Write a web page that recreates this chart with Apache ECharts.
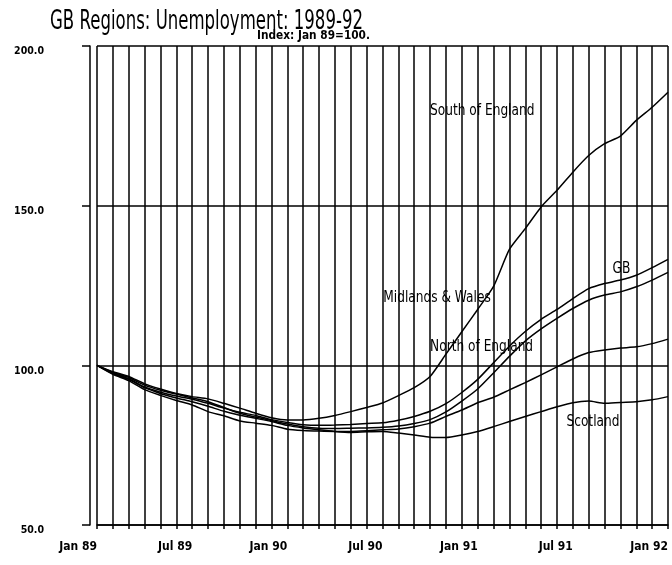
<!DOCTYPE html>
<html>
<head>
<meta charset="utf-8">
<script src="https://cdn.jsdelivr.net/npm/echarts/dist/echarts.min.js"></script>
<style>html,body{margin:0;padding:0;background:#fff}#c{width:672px;height:565px}</style>
</head>
<body>
<div id="c"></div>
<script>
// ---------- data ----------
const months = [
  'Jan 89','Feb 89','Mar 89','Apr 89','May 89','Jun 89','Jul 89','Aug 89','Sep 89','Oct 89','Nov 89','Dec 89',
  'Jan 90','Feb 90','Mar 90','Apr 90','May 90','Jun 90','Jul 90','Aug 90','Sep 90','Oct 90','Nov 90','Dec 90',
  'Jan 91','Feb 91','Mar 91','Apr 91','May 91','Jun 91','Jul 91','Aug 91','Sep 91','Oct 91','Nov 91','Dec 91',
  'Jan 92'
];
const tickLabels = ['Jan 89','Jul 89','Jan 90','Jul 90','Jan 91','Jul 91','Jan 92'];
const yTicks = [50, 100, 150, 200];

const southOfEngland = [100,98.0,96.5,94.2,92.6,91.2,90.2,89.5,88.1,86.6,85.0,83.6,
  82.9,82.9,83.4,84.3,85.5,86.8,88.2,90.5,93.0,96.5,103.5,110.5,
  117.5,124.7,136.3,142.8,149.6,154.8,160.5,165.7,169.4,171.8,176.7,180.8,185.5];
const gb = [100,97.6,95.8,93.2,91.6,90.4,89.4,88.1,86.6,85.3,84.3,83.0,
  82.1,81.4,81.2,81.3,81.5,81.8,82.0,82.8,84.0,85.6,88.0,91.5,
  95.6,100.8,106.0,110.6,114.4,117.5,120.9,124.0,125.6,126.7,128.2,130.6,133.2];
const midlandsWales = [100,97.8,96.2,93.8,92.2,91.0,89.8,88.6,86.8,85.0,83.8,82.7,
  81.6,80.8,80.3,80.2,80.3,80.4,80.6,81.0,81.8,83.0,85.4,88.8,
  92.6,97.6,102.8,107.6,111.4,114.7,117.8,120.4,122.0,123.0,124.6,126.7,129.1];
const northOfEngland = [100,97.2,95.2,92.4,90.6,89.0,87.6,85.5,84.2,82.6,81.9,81.2,
  80.0,79.6,79.4,79.3,79.3,79.5,79.8,80.1,80.8,81.9,84.0,86.0,
  88.3,90.0,92.3,94.6,97.0,99.5,102.0,104.0,104.8,105.4,105.8,106.8,108.2];
const scotland = [100,97.4,95.6,93.0,91.2,89.8,88.6,87.2,85.6,84.4,83.4,82.4,
  81.2,80.4,79.8,79.3,79.0,79.2,79.3,78.8,78.2,77.5,77.4,78.2,
  79.3,80.8,82.4,84.0,85.5,87.0,88.3,88.8,88.1,88.4,88.6,89.2,90.2];

const seriesNames = ['South of England','GB','Midlands & Wales','North of England','Scotland'];
const seriesData = [southOfEngland, gb, midlandsWales, northOfEngland, scotland];

const titleText = 'GB Regions: Unemployment: 1989-92';
const subtitleText = 'Index: Jan 89=100.';

// label anchors (month index, value) for the in-plot series names
const labelAnchors = [
  {name:'South of England', at:[21.0, 179.7]},
  {name:'GB', at:[32.5, 130.0]},
  {name:'Midlands & Wales', at:[18.05, 120.9]},
  {name:'North of England', at:[21.0, 105.8]},
  {name:'Scotland', at:[29.6, 82.2]}
];

// ---------- chart ----------
const chart = echarts.init(document.getElementById('c'), null, {renderer:'canvas'});
const AXFONT = '"DejaVu Sans Condensed","Liberation Sans Narrow","DejaVu Sans",sans-serif';

chart.setOption({
  animation: false,
  backgroundColor: '#fff',
  grid: {left: 97, right: 4, top: 46, bottom: 40},
  xAxis: {
    type: 'category',
    data: months,
    boundaryGap: false,
    axisLine: {show: true, lineStyle: {color: '#000', width: 1.5}},
    axisTick: {show: true, interval: 0, length: 4, lineStyle: {color: '#000', width: 1.5}},
    splitLine: {show: true, interval: 0, lineStyle: {color: '#000', width: 1.5}},
    axisLabel: {
      interval: 0,
      formatter: (v) => tickLabels.indexOf(v) >= 0 ? v : '',
      align: 'right', margin: 16,
      color: '#000', fontFamily: AXFONT, fontWeight: 'bold', fontSize: 12
    }
  },
  yAxis: {
    type: 'value', min: yTicks[0], max: yTicks[yTicks.length-1], interval: 50,
    offset: 7,
    axisLine: {show: true, lineStyle: {color: '#000', width: 1.5}},
    axisTick: {show: true, length: 8, lineStyle: {color: '#000', width: 1.5}},
    splitLine: {show: true, lineStyle: {color: '#000', width: 1.5}},
    axisLabel: {
      formatter: (v) => v.toFixed(1), margin: 46, verticalAlign: 'top',
      color: '#000', fontFamily: AXFONT, fontWeight: 'bold', fontSize: 10.5
    }
  },
  series: seriesNames.map((n, i) => ({
    name: n, type: 'line', data: seriesData[i], symbol: 'none', smooth: 0.2,
    lineStyle: {color: '#000', width: 1.5}, z: 5
  }))
});

// measure text to condense it like the plotter font
const cv = document.createElement('canvas').getContext('2d');
function widthOf(text, font) { cv.font = font; return cv.measureText(text).width; }

const titleFont = 'normal 26px "DejaVu Sans", sans-serif';
const subFont = 'bold 12px "DejaVu Sans", sans-serif';
const lblFont = 'normal 15px "DejaVu Sans", sans-serif';
const titleScale = 313 / widthOf(titleText, titleFont);
const subScale = 113 / widthOf(subtitleText, subFont);
const lblScale = 103 / widthOf('North of England', lblFont);

const p0 = chart.convertToPixel({gridIndex: 0}, [0, 100]);
const p36 = chart.convertToPixel({gridIndex: 0}, [36, 100]);
function toPx(m, v) {
  const py = chart.convertToPixel({yAxisIndex: 0}, v);
  return [p0[0] + (p36[0] - p0[0]) * m / 36, py];
}

const graphics = [
  {type: 'text', x: 50, y: 22, scaleX: titleScale, z: 10,
   style: {text: titleText, font: titleFont, fill: '#000', textAlign: 'left', textVerticalAlign: 'middle'}},
  {type: 'text', x: 257, y: 36, scaleX: subScale, z: 10,
   style: {text: subtitleText, font: subFont, fill: '#000', textAlign: 'left', textVerticalAlign: 'middle'}}
];
labelAnchors.forEach(a => {
  const p = toPx(a.at[0], a.at[1]);
  graphics.push({type: 'text', x: p[0], y: p[1], scaleX: lblScale, z: 10,
    style: {text: a.name, font: lblFont, fill: '#000', textAlign: 'left', textVerticalAlign: 'middle'}});
});
chart.setOption({graphic: graphics});
</script>
</body>
</html>
